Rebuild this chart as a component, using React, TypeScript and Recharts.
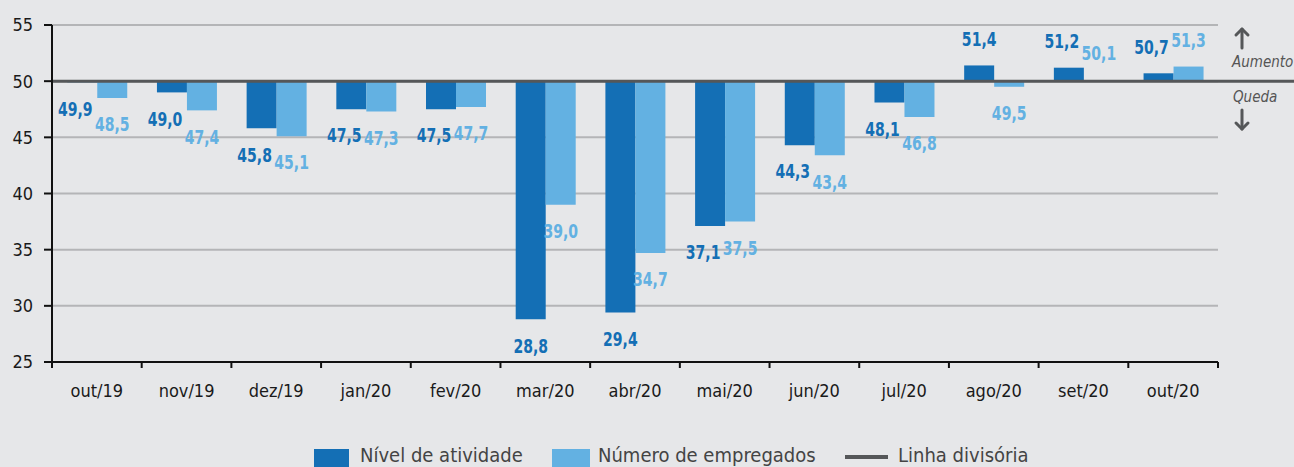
import { BarChart, Bar, XAxis, YAxis, CartesianGrid, ReferenceLine, LabelList } from 'recharts';

const months = ['out/19', 'nov/19', 'dez/19', 'jan/20', 'fev/20', 'mar/20', 'abr/20', 'mai/20', 'jun/20', 'jul/20', 'ago/20', 'set/20', 'out/20'];
const atividade = [49.9, 49.0, 45.8, 47.5, 47.5, 28.8, 29.4, 37.1, 44.3, 48.1, 51.4, 51.2, 50.7];
const empregados = [48.5, 47.4, 45.1, 47.3, 47.7, 39.0, 34.7, 37.5, 43.4, 46.8, 49.5, 50.1, 51.3];
const yTicks = [25, 30, 35, 40, 45, 50, 55];
const baseline = 50;

const DARK = '#146fb5';
const LIGHT = '#63b1e2';
const BG = '#e6e7e9';
const FONT = '"DejaVu Sans Condensed", "DejaVu Sans", sans-serif';

const data = months.map((month, i) => ({ month, atividade: atividade[i], empregados: empregados[i] }));

const fmt = (v: number) => v.toFixed(1).replace('.', ',');

// value labels sit under the bar end when below 50, above it otherwise
const makeLabel = (color: string, other: number[] | null) => (props: any) => {
  const vb = props.viewBox ?? props;
  const { x, y, width, height } = vb;
  const v = Number(props.value);
  const top = Math.min(y, y + height);
  const bottom = Math.max(y, y + height);
  const up = v >= baseline;
  const cy = up ? top - 27 : bottom + 26;
  let dx = 0;
  if (other) {
    const o = other[props.index];
    if (o >= baseline === up && Math.abs(o - v) < 2.5) dx = -7;
  }
  return (
    <text
      transform={`translate(${x + width / 2 + dx},${cy}) scale(0.78,1)`}
      fill={color}
      textAnchor="middle"
      dominantBaseline="central"
      fontFamily={FONT}
      fontWeight="bold"
      fontSize={20}
    >
      {fmt(v)}
    </text>
  );
};

const MonthTick = (props: any) => {
  const { x, y, payload, index } = props;
  const half = payload?.offset ?? 44.85;
  const axisY = y - 8;
  return (
    <g>
      <line x1={x - half} y1={axisY} x2={x - half} y2={axisY + 6} stroke="#111" strokeWidth={2} />
      {index === months.length - 1 && (
        <line x1={x + half} y1={axisY} x2={x + half} y2={axisY + 6} stroke="#111" strokeWidth={2} />
      )}
      <text x={x} y={axisY + 28} textAnchor="middle" dominantBaseline="central" fill="#1a1a1a" fontSize={18} fontFamily={FONT}>
        {payload.value}
      </text>
    </g>
  );
};

const Arrow = ({ top, down }: { top: number; down?: boolean }) => (
  <svg style={{ position: 'absolute', left: 1233, top }} width={18} height={24}>
    <g transform={down ? 'rotate(180 9 12)' : undefined} stroke="#555759" strokeWidth={3} fill="none" strokeLinecap="round">
      <line x1={9} y1={3} x2={9} y2={22} />
      <polyline points="3,9 9,3 15,9" strokeLinejoin="round" />
    </g>
  </svg>
);

const legendText: React.CSSProperties = { position: 'absolute', top: 444, fontSize: 20, lineHeight: '22px', color: '#444', fontFamily: FONT, whiteSpace: 'nowrap' };
const note: React.CSSProperties = { position: 'absolute', left: 1232, fontSize: 15, lineHeight: '20px', fontStyle: 'italic', color: '#555', fontFamily: FONT, whiteSpace: 'nowrap' };

export default function App() {
  return (
    <div style={{ position: 'fixed', left: 0, top: 0, width: 1294, height: 467, background: BG, overflow: 'hidden' }}>
      <BarChart
        width={1294}
        height={467}
        data={data}
        margin={{ top: 25, right: 76, bottom: 65, left: 0 }}
        barCategoryGap="17%"
        barGap={0}
      >
        <CartesianGrid vertical={false} stroke="#b4b5b7" strokeWidth={2} />
        <XAxis
          dataKey="month"
          height={40}
          tickSize={6}
          tickMargin={2}
          tickLine={false}
          axisLine={{ stroke: '#111', strokeWidth: 2 }}
          tick={<MonthTick />}
          interval={0}
        />
        <YAxis
          width={52}
          domain={[25, 55]}
          ticks={yTicks}
          allowDataOverflow
          tickSize={8}
          tickMargin={11}
          axisLine={{ stroke: '#111', strokeWidth: 2 }}
          tickLine={{ stroke: '#111', strokeWidth: 2 }}
          tick={{ fill: '#1a1a1a', fontSize: 18, fontFamily: FONT }}
        />
        <Bar dataKey={(d: any) => [baseline, d.atividade]} fill={DARK} isAnimationActive={false}>
          <LabelList dataKey="atividade" content={makeLabel(DARK, empregados)} />
        </Bar>
        <Bar dataKey={(d: any) => [baseline, d.empregados]} fill={LIGHT} isAnimationActive={false}>
          <LabelList dataKey="empregados" content={makeLabel(LIGHT, null)} />
        </Bar>
        <ReferenceLine
          y={baseline}
          shape={(p: any) => <line x1={p.x1} y1={p.y1} x2={1294} y2={p.y2} stroke="#555759" strokeWidth={3} />}
        />
      </BarChart>

      <Arrow top={26} />
      <div style={{ ...note, top: 52 }}>Aumento</div>
      <div style={{ ...note, top: 87, left: 1233 }}>Queda</div>
      <Arrow top={108} down />

      <div style={{ position: 'absolute', left: 314, top: 449, width: 35, height: 18, background: DARK }} />
      <div style={{ ...legendText, left: 360 }}>Nível de atividade</div>
      <div style={{ position: 'absolute', left: 552, top: 449, width: 38, height: 18, background: LIGHT }} />
      <div style={{ ...legendText, left: 598 }}>Número de empregados</div>
      <div style={{ position: 'absolute', left: 845, top: 455, width: 43, height: 4, background: '#555759' }} />
      <div style={{ ...legendText, left: 898 }}>Linha divisória</div>
    </div>
  );
}
